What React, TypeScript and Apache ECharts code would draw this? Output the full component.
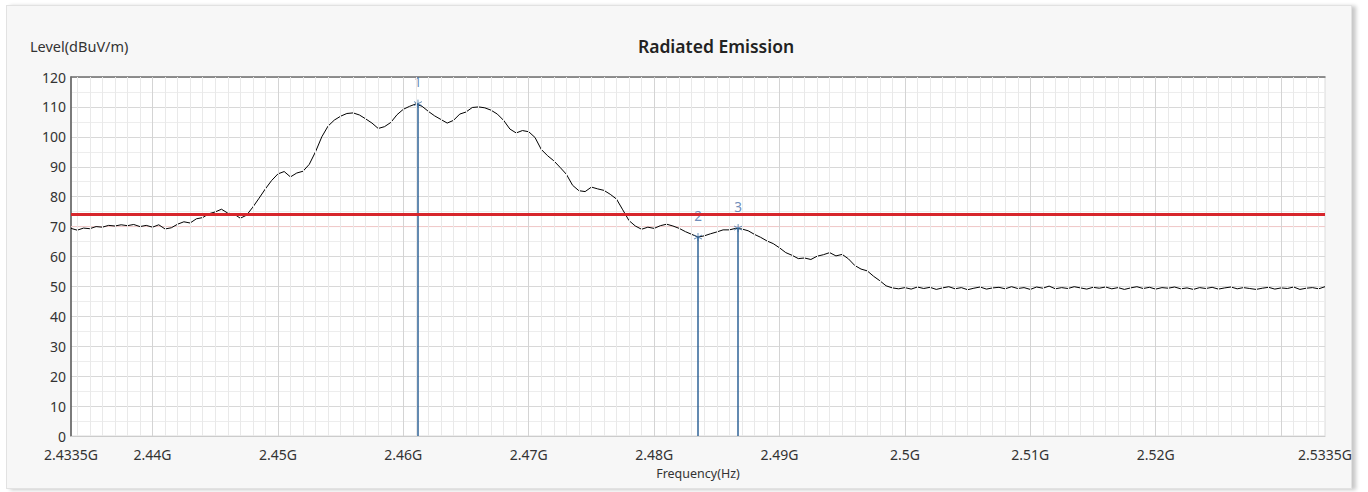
import React, { useEffect, useRef } from "react";
import * as echarts from "echarts";

// ---- data ----
const FREQ_START = 2433.5; // MHz
const FREQ_STEP = 0.5; // MHz
const FREQ_END = 2533.5; // MHz

// Measured level (dBuV/m), one value every 0.5 MHz from 2433.5 MHz
const LEVELS_RISE = [
  69.4, 68.8, 69.5, 69.3, 70.0, 69.8, 70.4, 70.2, 70.6, 70.3,
  70.7, 70.0, 70.4, 69.8, 70.6, 69.2, 69.6, 70.8, 71.6, 71.2,
  72.6, 73.0, 74.3, 74.9, 75.8, 74.5, 74.2, 72.8, 73.8, 76.5,
  79.5, 82.6, 85.4, 87.6, 88.4, 86.6, 87.9, 88.5, 90.8, 95.0,
  100.0, 103.6, 105.6, 106.9, 107.8, 108.0, 107.3, 106.0, 104.6, 102.8,
  103.4, 104.8, 107.4, 109.2, 110.2, 111.0, 110.2, 108.5, 107.0, 105.8,
  104.6, 105.5, 107.6, 108.3, 109.8, 110.0,
];
const LEVELS_FALL = [
  109.7, 108.9, 107.6, 105.5, 102.6, 101.3, 102.1, 101.7, 99.8, 95.8,
  93.7, 92.0, 89.8, 87.5, 83.8, 82.0, 81.7, 83.2, 82.6, 82.1,
  80.8, 79.2, 75.6, 72.0, 70.2, 69.1, 69.8, 69.4, 70.3, 70.8,
  70.2, 69.4, 68.3, 67.4, 66.5, 66.9, 67.6, 68.2, 68.9, 68.9,
  69.4, 69.2, 68.6, 67.4, 66.4, 65.2, 64.3, 62.9, 61.3, 60.4,
  59.3, 59.5, 59.0, 60.1, 60.6, 61.3, 60.2, 60.7, 59.2, 57.0,
  55.8, 55.2, 53.4, 51.9, 50.2, 49.5, 49.2,
];
const LEVELS_FLOOR = [
  49.6, 49.1, 49.8, 49.3, 49.7, 49.0, 49.5, 49.9, 49.2, 49.6,
  48.9, 49.4, 49.8, 49.1, 49.5, 49.7, 49.2, 49.9, 49.3, 49.6,
  49.0, 49.8, 49.4, 50.1, 49.2, 49.6, 49.3, 49.9, 49.5, 49.1,
  49.7, 49.4, 49.8, 49.2, 49.6, 49.0, 49.5, 49.9, 49.3, 49.7,
  49.1, 49.6, 49.4, 49.8, 49.2, 49.5, 49.0, 49.6, 49.3, 49.7,
  49.1, 49.5, 49.8, 49.2, 49.6, 49.3, 49.0, 49.4, 49.7, 49.1,
  49.5, 49.3, 49.8, 49.0, 49.4, 49.6, 49.2, 49.9,
];

const MARKER_NAMES = ["1", "2", "3"];
const MARKER_FREQ = [2461.17, 2483.5, 2486.7];
const MARKER_LEVEL = [111.1, 66.5, 69.5];

const LIMIT_LEVEL = 74;
const LIMIT_AUX_LEVEL = 70;

const X_LABEL_VALUES = [2433.5, 2440, 2450, 2460, 2470, 2480, 2490, 2500, 2510, 2520, 2533.5];
const X_LABEL_TEXTS = ["2.4335G", "2.44G", "2.45G", "2.46G", "2.47G", "2.48G", "2.49G", "2.5G", "2.51G", "2.52G", "2.5335G"];
const X_MAJOR_GRID = [2440, 2450, 2460, 2470, 2480, 2490, 2500, 2510, 2520, 2530];
const X_MINOR_GRID: number[] = [];
for (let f = 2434; f <= 2533; f += 1) {
  if (f % 10 !== 0) X_MINOR_GRID.push(f);
}

const FONT = "'Noto Sans', 'Open Sans', sans-serif";

export default function App() {
  const ref = useRef<HTMLDivElement>(null);

  useEffect(() => {
    if (!ref.current) return;
    const chart = echarts.init(ref.current, undefined, { renderer: "svg" });
    const levels = [...LEVELS_RISE, ...LEVELS_FALL, ...LEVELS_FLOOR];
    const trace = levels.map((v, i) => [FREQ_START + i * FREQ_STEP, v]);

    const option: any = {
      animation: false,
      backgroundColor: "transparent",
      textStyle: { fontFamily: FONT },
      grid: {
        left: 71,
        right: 43,
        top: 77,
        bottom: 56,
        show: true,
        backgroundColor: "#ffffff",
        borderColor: "#dcdcdc",
        borderWidth: 1,
      },
      graphic: [
        {
          type: "text",
          x: 716,
          y: 46,
          style: {
            text: "Radiated Emission",
            align: "center",
            verticalAlign: "middle",
            font: `600 17.5px ${FONT}`,
            fill: "#222",
          },
        },
        {
          type: "text",
          x: 30,
          y: 46,
          style: {
            text: "Level(dBuV/m)",
            align: "left",
            verticalAlign: "middle",
            font: `14.5px ${FONT}`,
            fill: "#333",
          },
        },
      ],
      xAxis: [
        {
          type: "value",
          min: FREQ_START,
          max: FREQ_END,
          axisLine: { show: true, lineStyle: { color: "#cccccc", width: 1 } },
          axisTick: { show: false },
          splitLine: { show: false },
          axisLabel: {
            customValues: X_LABEL_VALUES,
            hideOverlap: false,
            showMinLabel: true,
            showMaxLabel: true,
            formatter: (v: number) => {
              const idx = X_LABEL_VALUES.findIndex((x) => Math.abs(x - v) < 1e-6);
              return idx >= 0 ? X_LABEL_TEXTS[idx] : "";
            },
            fontSize: 14,
            color: "#333",
            margin: 11,
            fontFamily: FONT,
          },
          name: "Frequency(Hz)",
          nameLocation: "middle",
          nameGap: 31,
          nameTextStyle: { fontSize: 12.5, color: "#333", fontFamily: FONT },
        },
        {
          type: "value",
          position: "top",
          min: FREQ_START,
          max: FREQ_END,
          axisLine: { show: true, lineStyle: { color: "#707070", width: 1.5 } },
          axisTick: { show: false },
          axisLabel: { show: false },
          splitLine: { show: false },
        },
      ],
      yAxis: {
        type: "value",
        min: 0,
        max: 120,
        interval: 10,
        axisLine: { show: true, lineStyle: { color: "#555555", width: 1.5 } },
        axisTick: { show: false },
        axisLabel: { fontSize: 14, color: "#333", margin: 5, fontFamily: FONT },
        splitLine: { show: true, lineStyle: { color: "#d8d8d8", width: 1 } },
        minorTick: { show: false, splitNumber: 2 },
        minorSplitLine: { show: true, lineStyle: { color: "#ededed", width: 1 } },
      },
      series: [
        {
          name: "aux",
          type: "line",
          z: 1,
          silent: true,
          showSymbol: false,
          data: [
            [FREQ_START, LIMIT_AUX_LEVEL],
            [FREQ_END, LIMIT_AUX_LEVEL],
          ],
          lineStyle: { color: "#f2c9c9", width: 1 },
          markLine: {
            silent: true,
            symbol: ["none", "none"],
            label: { show: false },
            animation: false,
            lineStyle: { color: "#e9e9e9", width: 1, type: "solid" },
            data: [
              ...X_MINOR_GRID.map((v) => ({ xAxis: v })),
              ...X_MAJOR_GRID.map((v) => ({ xAxis: v, lineStyle: { color: "#d4d4d4", width: 1, type: "solid" } })),
            ],
          },
        },
        {
          name: "Level",
          type: "line",
          z: 3,
          showSymbol: false,
          data: trace,
          lineStyle: { color: "#000000", width: 1 },
        },
        {
          name: "markers",
          type: "scatter",
          z: 4,
          data: MARKER_FREQ.map((f, i) => ({ value: [f, MARKER_LEVEL[i]], name: MARKER_NAMES[i] })),
          symbol: "path://M5,0L5,10M0.7,2.5L9.3,7.5M0.7,7.5L9.3,2.5",
          symbolSize: 8,
          itemStyle: { color: "rgba(0,0,0,0)", borderColor: "#3f72a6", borderWidth: 1 },
          label: {
            show: true,
            position: "top",
            distance: 10,
            formatter: (p: any) => p.name,
            color: "#4a6fa8",
            fontSize: 13.5,
            fontFamily: FONT,
          },
          markLine: {
            silent: true,
            symbol: ["none", "none"],
            label: { show: false },
            animation: false,
            lineStyle: { color: "#2f6397", width: 1.5, type: "solid" },
            data: MARKER_FREQ.map((f, i) => [{ coord: [f, 0] }, { coord: [f, MARKER_LEVEL[i]] }]),
          },
        },
        {
          name: "Limit",
          type: "line",
          z: 5,
          showSymbol: false,
          silent: true,
          data: [
            [FREQ_START, LIMIT_LEVEL],
            [FREQ_END, LIMIT_LEVEL],
          ],
          lineStyle: { color: "#d7262c", width: 3 },
        },
      ],
    };
    chart.setOption(option);
    return () => chart.dispose();
  }, []);

  return (
    <div style={{ position: "fixed", left: 0, top: 0, width: 1368, height: 492, background: "#ffffff" }}>
      <div
        style={{
          position: "absolute",
          left: 6,
          top: 5,
          width: 1344,
          height: 482,
          background: "#f7f7f7",
          border: "1px solid #e2e2e2",
          boxShadow: "4px 1px 4px rgba(0,0,0,0.22)",
        }}
      />
      <div ref={ref} style={{ position: "absolute", left: 0, top: 0, width: 1368, height: 492 }} />
    </div>
  );
}
